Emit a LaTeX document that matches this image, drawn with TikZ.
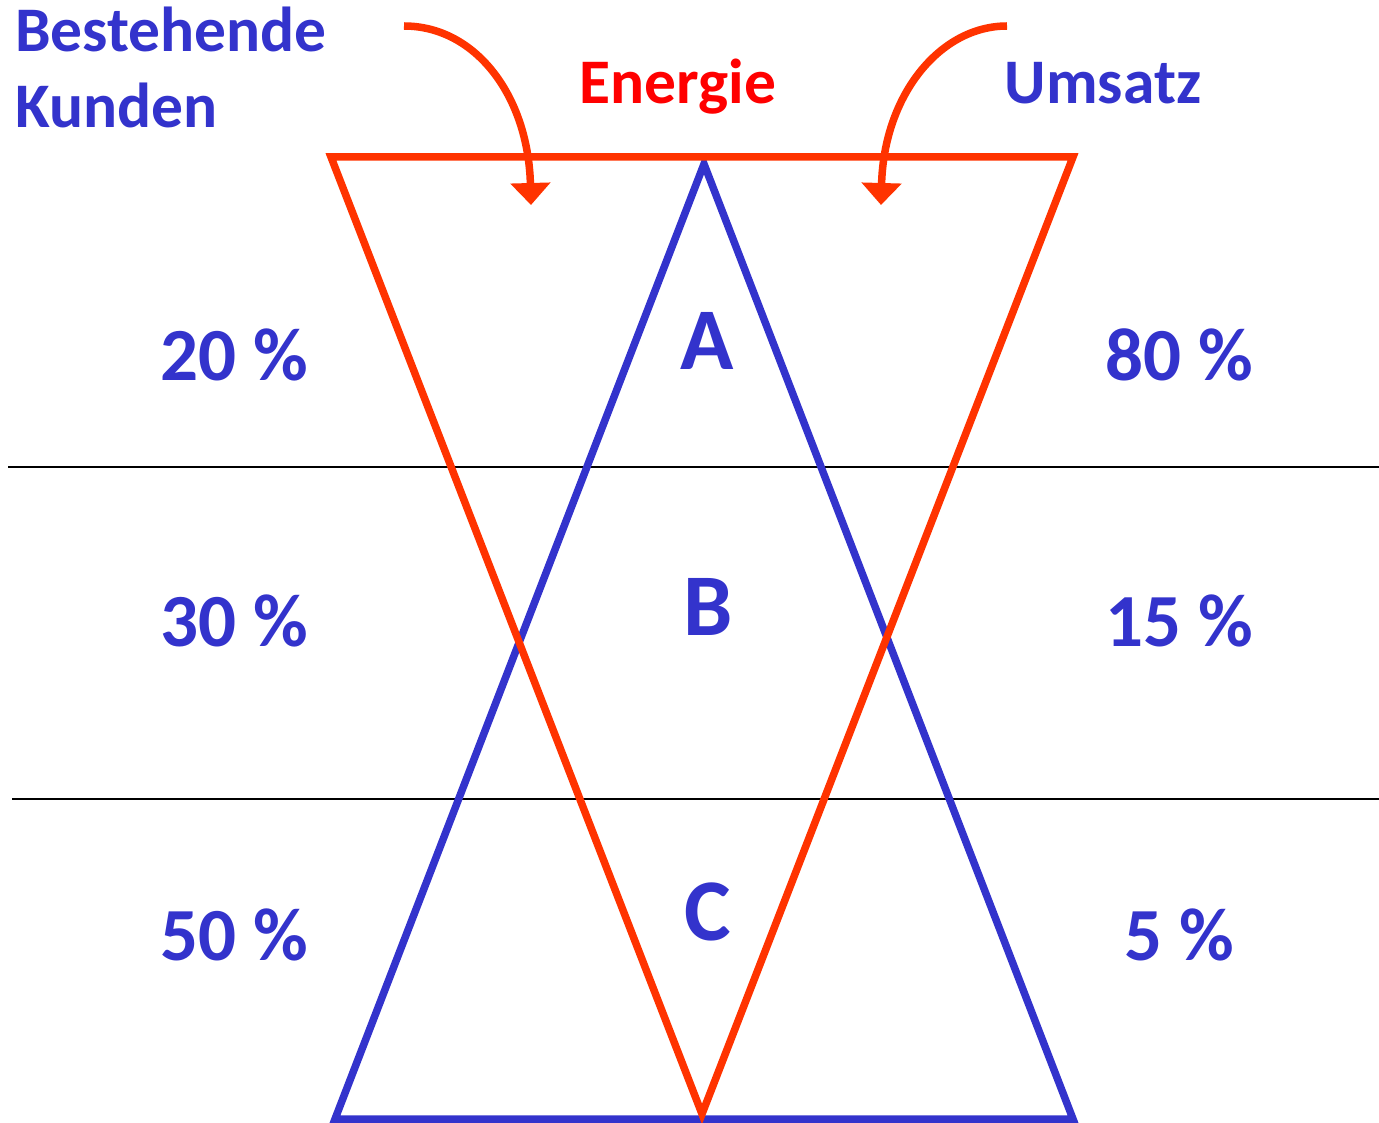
\documentclass[tikz,border=0pt]{standalone}
\usepackage{fontspec}
\setmainfont{Carlito}
\usetikzlibrary{arrows.meta}
\definecolor{myblue}{RGB}{51,51,204}
\definecolor{myred}{RGB}{255,0,0}
\definecolor{myorange}{RGB}{255,51,0}
\tikzset{
  bluetri/.style={draw=myblue, line width=7.5pt, line join=miter},
  redtri/.style={draw=myorange, line width=7.5pt, line join=miter},
  sepline/.style={draw=black, line width=2.5pt},
  curvearrow/.style={draw=myorange, line width=7.5pt, -{Triangle[width=39pt,length=22pt]}},
  pct/.style={font=\bfseries\fontsize{75}{80}\selectfont, text=myblue, anchor=base, inner sep=0pt},
  letter/.style={font=\bfseries\fontsize{88}{94}\selectfont, text=myblue, anchor=base, inner sep=0pt},
  head/.style={font=\bfseries\fontsize{63.5}{66}\selectfont, anchor=base, inner sep=0pt}
}
\begin{document}
\begin{tikzpicture}[x=1pt,y=-1pt]
\useasboundingbox (0,0) rectangle (1379,1123);
% separator lines
\coordinate (l1a) at (8,467);
\coordinate (l1b) at (1379,467);
\coordinate (l2a) at (12,799);
\coordinate (l2b) at (1379,799);
\draw[sepline] (l1a) -- (l1b);
\draw[sepline] (l2a) -- (l2b);
% blue triangle
\coordinate (bL) at (335,1119);
\coordinate (bT) at (704,164);
\coordinate (bR) at (1073,1119);
\draw[bluetri] (bL) -- (bT) -- (bR) -- cycle;
% red inverted triangle
\coordinate (rL) at (331,157);
\coordinate (rR) at (1073,157);
\coordinate (rB) at (702,1114);
\draw[redtri] (rL) -- (rR) -- (rB) -- cycle;
% headings
\node[head, text=myblue, anchor=base west] (best) at (15,52) {Bestehende};
\node[head, text=myblue, anchor=base west] (kund) at (15,128) {Kunden};
\node[head, text=myred] (energ) at (678,104) {Energie};
\node[head, text=myblue] (ums) at (1103,104) {Umsatz};
% curved arrows
\coordinate (a1s) at (404,26);
\coordinate (a1e) at (531,205);
\coordinate (a2s) at (1007,26);
\coordinate (a2e) at (881,205);
\draw[curvearrow] (a1s) .. controls (475,26) and (528,95) .. (a1e);
\draw[curvearrow] (a2s) .. controls (940,26) and (884,95) .. (a2e);
% letters
\node[letter] (A) at (707,370) {A};
\node[letter] (B) at (708,635) {B};
\node[letter] (C) at (708,940) {C};
% percentages
\node[pct] (p20) at (234,381) {20 \%};
\node[pct] (p30) at (234,646) {30 \%};
\node[pct] (p50) at (234,960) {50 \%};
\node[pct] (p80) at (1179,381) {80 \%};
\node[pct] (p15) at (1179,646) {15 \%};
\node[pct] (p5) at (1179,960) {5 \%};
\end{tikzpicture}
\end{document}
